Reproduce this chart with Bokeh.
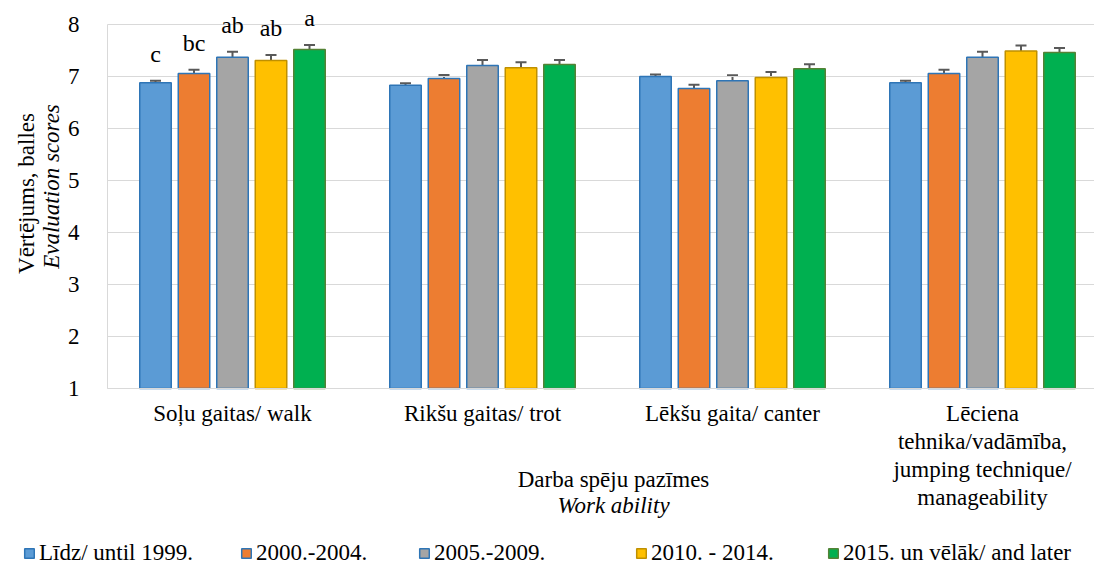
import math
from bokeh.plotting import figure
from bokeh.models import (ColumnDataSource, Range1d, FixedTicker, Whisker, TeeHead,
                          LabelSet, Label, Legend, LegendItem)
from bokeh.embed import file_html
from bokeh.resources import INLINE

# ---------------- data ----------------
categories = ["Soļu gaitas/ walk", "Rikšu gaitas/ trot", "Lēkšu gaita/ canter",
              "Lēciena\ntehnika/vadāmība,\njumping technique/\nmanageability"]
series = ["Līdz/ until 1999.", "2000.-2004.", "2005.-2009.", "2010. - 2014.",
          "2015. un vēlāk/ and later"]
v_until1999 = [6.88, 6.83, 7.00, 6.88]
v_2000_2004 = [7.06, 6.96, 6.77, 7.06]
v_2005_2009 = [7.37, 7.21, 6.92, 7.37]
v_2010_2014 = [7.31, 7.17, 6.98, 7.49]
v_2015_later = [7.52, 7.23, 7.15, 7.46]
e_until1999 = [0.04, 0.04, 0.04, 0.04]
e_2000_2004 = [0.07, 0.07, 0.07, 0.07]
e_2005_2009 = [0.105, 0.105, 0.105, 0.105]
e_2010_2014 = [0.105, 0.105, 0.105, 0.105]
e_2015_later = [0.087, 0.087, 0.087, 0.087]
letters_walk = ["c", "bc", "ab", "ab", "a"]
y_ticks = [1, 2, 3, 4, 5, 6, 7, 8]

values = [v_until1999, v_2000_2004, v_2005_2009, v_2010_2014, v_2015_later]
errors = [e_until1999, e_2000_2004, e_2005_2009, e_2010_2014, e_2015_later]
fills = ["#5B9BD5", "#ED7D31", "#A5A5A5", "#FFC000", "#00B050"]
lines = ["#2E75B6", "#2E75B6", "#2E75B6", "#BF9000", "#548235"]

FONT = "'Liberation Serif', 'Times New Roman', serif"
FS = "23px"
W, H = 1094, 566
# plot area placement (pixels)
PX_LEFT, PX_TOP, PX_BOTTOM, GROUP_PX = 107, 24, 388, 250
ymin, ymax = y_ticks[0], y_ticks[-1]
ppu = (PX_BOTTOM - PX_TOP) / (ymax - ymin)
x0 = -0.5 - PX_LEFT / GROUP_PX
x1 = -0.5 + (W - PX_LEFT) / GROUP_PX
y0 = ymin - (H - PX_BOTTOM) / ppu
y1 = ymax + PX_TOP / ppu

p = figure(width=W, height=H, output_backend="svg", toolbar_location=None,
           x_range=Range1d(x0, x1), y_range=Range1d(y0, y1),
           min_border_left=0, min_border_right=0, min_border_top=0,
           min_border_bottom=0)
p.title.visible = False
p.outline_line_color = None
p.xgrid.grid_line_color = None
p.ygrid.grid_line_color = None

# horizontal gridlines across the plot area
p.segment(x0=[-0.5] * len(y_ticks), x1=[x1] * len(y_ticks), y0=y_ticks, y1=y_ticks,
          line_color="#D9D9D9", line_width=1)

p.yaxis.fixed_location = -0.5
p.yaxis.bounds = (ymin, ymax)
p.yaxis.ticker = FixedTicker(ticks=y_ticks)
p.yaxis.axis_line_color = "#D9D9D9"
p.yaxis.major_tick_line_color = None
p.yaxis.minor_tick_line_color = None
p.yaxis.major_label_standoff = 22
p.yaxis.major_label_text_font = FONT
p.yaxis.major_label_text_font_size = FS
p.yaxis.major_label_text_color = "#000000"

p.xaxis.fixed_location = ymin
p.xaxis.bounds = (-0.5, x1)
p.xaxis.ticker = FixedTicker(ticks=list(range(len(categories))))
p.xaxis.major_label_overrides = {i: c for i, c in enumerate(categories)}
p.xaxis.axis_line_color = "#D9D9D9"
p.xaxis.major_tick_line_color = None
p.xaxis.minor_tick_line_color = None
p.xaxis.major_label_standoff = 6
p.xaxis.major_label_text_font = FONT
p.xaxis.major_label_text_font_size = FS
p.xaxis.major_label_text_color = "#000000"
p.xaxis.major_label_text_line_height = 1.13

n = len(series)
step = 0.154
bw = 0.126
renderers = []
for k in range(n):
    xs = [g + (k - (n - 1) / 2) * step for g in range(len(categories))]
    src = ColumnDataSource(dict(x=xs, top=values[k],
                                upper=[v + e for v, e in zip(values[k], errors[k])],
                                lower=[v - e for v, e in zip(values[k], errors[k])]))
    r = p.vbar(x="x", top="top", bottom=ymin, width=bw, source=src,
               fill_color=fills[k], line_color=lines[k], line_width=1.5)
    renderers.append(r)
    w = Whisker(source=src, base="x", upper="upper", lower="lower",
                line_color="#595959", line_width=2,
                upper_head=TeeHead(size=11, line_color="#595959", line_width=2),
                lower_head=TeeHead(size=11, line_color="#595959", line_width=2))
    p.add_layout(w)

# significance letters for first group
lx = [0 + (k - (n - 1) / 2) * step for k in range(n)]
ly = [values[k][0] + errors[k][0] for k in range(n)]
lsrc = ColumnDataSource(dict(x=lx, y=ly, t=letters_walk))
p.add_layout(LabelSet(x="x", y="y", text="t", source=lsrc, text_align="center",
                      text_baseline="alphabetic", y_offset=19,
                      text_font=FONT, text_font_size="24px", text_color="#000000"))

# axis titles (screen px from bottom-left)
p.add_layout(Label(x=26, y=H - 193, x_units="screen", y_units="screen", angle=math.pi / 2,
                   text="Vērtējums, balles", text_align="center", text_baseline="middle",
                   text_font=FONT, text_font_size=FS, text_color="#000000"))
p.add_layout(Label(x=51, y=H - 186, x_units="screen", y_units="screen", angle=math.pi / 2,
                   text="Evaluation scores", text_align="center", text_baseline="middle",
                   text_font=FONT, text_font_size=FS, text_font_style="italic",
                   text_color="#000000"))
p.add_layout(Label(x=613, y=H - 479, x_units="screen", y_units="screen",
                   text="Darba spēju pazīmes", text_align="center", text_baseline="middle",
                   text_font=FONT, text_font_size=FS, text_color="#000000"))
p.add_layout(Label(x=613, y=H - 505, x_units="screen", y_units="screen",
                   text="Work ability", text_align="center", text_baseline="middle",
                   text_font=FONT, text_font_size=FS, text_font_style="italic",
                   text_color="#000000"))

# legend items at separate positions
leg_x = [23, 240, 418, 635, 827]
for k in range(n):
    lg = Legend(items=[LegendItem(label=series[k], renderers=[renderers[k]])],
                location=(leg_x[k], 0), orientation="horizontal",
                glyph_width=12, glyph_height=12, label_standoff=4,
                padding=0, margin=0, spacing=0, border_line_color=None,
                background_fill_alpha=0, label_text_font=FONT,
                label_text_font_size=FS, label_text_color="#000000")
    p.add_layout(lg)

open("out.html", "w").write(file_html(p, INLINE))
